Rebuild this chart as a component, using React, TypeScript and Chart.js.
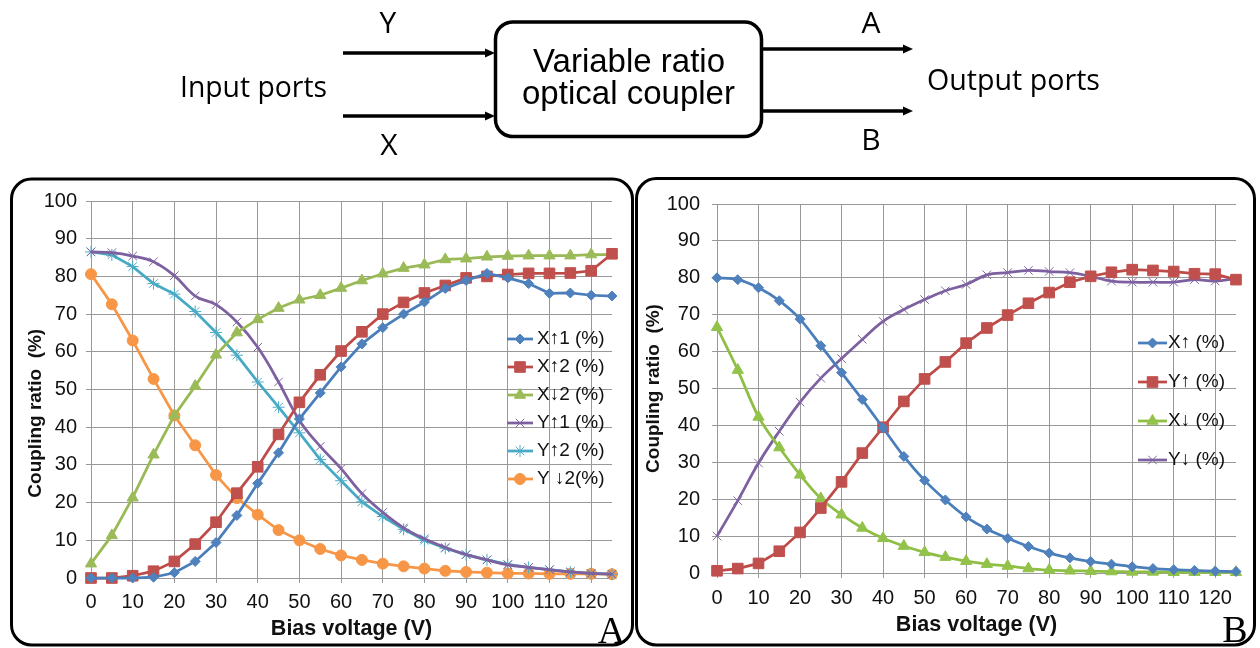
import React, { useEffect, useRef } from "react";
import { Chart, registerables, PointElement } from "chart.js";

Chart.register(...registerables);
Chart.defaults.font.family = "'Liberation Sans', Arial, sans-serif";

// ---------------- data ----------------
const voltages = [0, 5, 10, 15, 20, 25, 30, 35, 40, 45, 50, 55, 60, 65, 70, 75, 80, 85, 90, 95, 100, 105, 110, 115, 120, 125];
const xTickValues = [0, 10, 20, 30, 40, 50, 60, 70, 80, 90, 100, 110, 120];

// Panel A
const xUp1A = [0, 0, 0, 0.2, 1.4, 4.4, 9.4, 16.6, 25.1, 33.2, 42.2, 49.1, 56.0, 62.1, 66.4, 70.0, 73.2, 76.8, 78.9, 80.8, 79.6, 78.1, 75.5, 75.6, 75.0, 74.8];
const xUp2A = [0, 0, 0.6, 1.8, 4.4, 9.0, 14.8, 22.5, 29.5, 38.1, 46.6, 53.9, 60.2, 65.3, 70.0, 73.1, 75.6, 77.6, 79.6, 80.0, 80.5, 80.8, 80.8, 80.9, 81.5, 86.0];
const xDown2A = [3.8, 11.3, 21.3, 32.7, 43.1, 50.9, 59.2, 65.1, 68.6, 71.6, 73.8, 75.0, 76.9, 78.9, 80.7, 82.2, 83.1, 84.5, 84.7, 85.2, 85.4, 85.5, 85.5, 85.5, 85.8, 85.8];
const yUp1A = [86.5, 86.3, 85.4, 83.9, 80.2, 74.8, 72.5, 67.9, 61.2, 52.0, 41.8, 34.9, 29.0, 22.4, 17.4, 13.3, 10.4, 8.1, 6.2, 4.8, 3.5, 2.8, 2.2, 1.6, 1.2, 1.0];
const yUp2A = [86.5, 85.7, 82.6, 78.1, 75.3, 70.7, 65.1, 59.1, 52.0, 45.3, 38.5, 31.4, 25.8, 20.2, 16.3, 12.9, 10.0, 7.9, 6.2, 4.8, 3.6, 2.8, 2.2, 1.6, 1.2, 1.0];
const yDown2A = [80.6, 72.6, 63.0, 52.8, 43.1, 35.2, 27.3, 21.2, 16.8, 12.7, 10.0, 7.7, 6.0, 4.8, 3.8, 3.1, 2.5, 1.9, 1.6, 1.4, 1.2, 1.2, 1.1, 1.1, 1.1, 1.0];
const labelsA = ["X\u21911 (%)", "X\u21912 (%)", "X\u21932 (%)", "Y\u21911 (%)", "Y\u21912 (%)", "Y \u21932(%)"];

// Panel B
const xUpB = [80.0, 79.5, 77.3, 73.8, 68.8, 61.6, 54.3, 47.0, 39.3, 31.6, 25.1, 19.8, 15.2, 11.9, 9.4, 7.2, 5.4, 4.1, 3.1, 2.4, 1.7, 1.2, 0.9, 0.7, 0.5, 0.4];
const yUpB = [0.6, 1.2, 2.6, 5.9, 11.0, 17.6, 24.7, 32.5, 39.5, 46.5, 52.6, 57.2, 62.3, 66.4, 69.9, 73.1, 76.0, 78.8, 80.4, 81.5, 82.2, 82.0, 81.7, 81.1, 81.0, 79.5];
const xDownB = [66.6, 55.0, 42.3, 34.0, 26.6, 20.2, 15.8, 12.2, 9.4, 7.3, 5.6, 4.3, 3.2, 2.4, 1.9, 1.2, 0.8, 0.6, 0.5, 0.4, 0.3, 0.3, 0.2, 0.2, 0.2, 0.2];
const yDownB = [10.0, 19.6, 29.8, 38.4, 46.3, 52.8, 58.1, 63.3, 68.2, 71.4, 74.1, 76.5, 78.2, 80.8, 81.4, 82.0, 81.7, 81.4, 80.4, 79.1, 78.8, 78.8, 78.8, 79.5, 79.1, 79.8];
const labelsB = ["X\u2191 (%)", "Y\u2191 (%)", "X\u2193 (%)", "Y\u2193 (%)"];

const xTitle = "Bias voltage (V)";
const yTitle = "Coupling ratio  (%)";

// ---------------- helpers ----------------
const GRID = "#999999";
const TEXT = "#111111";

function series(label: string, values: number[], line: string, marker: string, pointStyle: string, radius: number, pointBorderWidth: number, tension: number) {
  return {
    label,
    data: voltages.map((v, i) => ({ x: v, y: values[i] })),
    borderColor: line,
    backgroundColor: marker,
    borderWidth: 2.75,
    pointStyle,
    pointRadius: radius,
    pointBorderWidth,
    pointBackgroundColor: marker,
    pointBorderColor: marker,
    tension,
    clip: false as any,
  };
}

const insideLegend = {
  id: "insideLegend",
  afterDatasetsDraw(chart: any, _args: any, opts: any) {
    const ctx = chart.ctx as CanvasRenderingContext2D;
    ctx.save();
    chart.data.datasets.forEach((ds: any, i: number) => {
      const y = opts.y0 + i * opts.spacing;
      ctx.strokeStyle = ds.borderColor;
      ctx.lineWidth = ds.borderWidth;
      ctx.beginPath();
      ctx.moveTo(opts.x0, y);
      ctx.lineTo(opts.x1, y);
      ctx.stroke();
      const pt: any = new PointElement({
        x: (opts.x0 + opts.x1) / 2,
        y,
        options: {
          pointStyle: ds.pointStyle,
          radius: ds.pointRadius,
          borderWidth: ds.pointBorderWidth,
          backgroundColor: ds.pointBackgroundColor,
          borderColor: ds.pointBorderColor,
          rotation: 0,
        },
      } as any);
      pt.draw(ctx, chart.chartArea);
      ctx.fillStyle = TEXT;
      ctx.font = opts.font;
      ctx.textAlign = "left";
      ctx.textBaseline = "middle";
      ctx.fillText(ds.label, opts.textX, y);
    });
    ctx.restore();
  },
};

function buildConfig(datasets: any[], p: any): any {
  return {
    type: "line",
    data: { datasets },
    plugins: [insideLegend],
    options: {
      animation: false,
      responsive: false,
      layout: { padding: { top: p.padTop, right: p.padRight, left: 0, bottom: 0 } },
      plugins: {
        legend: { display: false },
        tooltip: { enabled: false },
        insideLegend: p.legend,
      },
      scales: {
        x: {
          type: "linear",
          min: 0,
          max: 125,
          afterBuildTicks: (scale: any) => {
            scale.ticks = xTickValues.map((v) => ({ value: v }));
          },
          afterFit: (scale: any) => {
            scale.height = p.xAxisHeight;
          },
          ticks: { font: { size: 20 }, color: TEXT, padding: p.xTickPad, maxRotation: 0, autoSkip: false },
          grid: { color: GRID, lineWidth: 1, tickLength: 5, drawTicks: true },
          border: { color: GRID },
          title: {
            display: true,
            text: xTitle,
            font: { size: 21.5, weight: "bold" },
            color: TEXT,
            padding: { top: 0, bottom: p.xTitlePad },
          },
        },
        y: {
          type: "linear",
          min: 0,
          max: 100,
          afterFit: (scale: any) => {
            scale.width = p.yAxisWidth;
          },
          ticks: { stepSize: 10, font: { size: 20 }, color: TEXT, padding: p.yTickPad },
          grid: { color: GRID, lineWidth: 1, tickLength: 5, drawTicks: true },
          border: { color: GRID },
          title: {
            display: true,
            text: p.yTitleText,
            font: { size: 19, weight: "bold" },
            color: TEXT,
            padding: { top: p.yTitlePad, bottom: 0 },
          },
        },
      },
    },
  };
}

function buildA() {
  const ds = [
    series(labelsA[0], xUp1A, "#4A7EBB", "#4F81BD", "rectRot", 5, 1, 0),
    series(labelsA[1], xUp2A, "#BE4B48", "#C0504D", "rect", 7.5, 1, 0),
    series(labelsA[2], xDown2A, "#98B954", "#9BBB59", "triangle", 6.5, 1, 0),
    series(labelsA[3], yUp1A, "#7D60A0", "#8064A2", "crossRot", 6, 1, 0.4),
    series(labelsA[4], yUp2A, "#46AAC5", "#4BACC6", "star", 6, 1, 0),
    series(labelsA[5], yDown2A, "#F79646", "#F79646", "circle", 5.5, 1, 0),
  ];
  return buildConfig(ds, {
    padTop: 12,
    padRight: 21,
    xAxisHeight: 65,
    yAxisWidth: 78,
    xTickPad: 7,
    yTickPad: 9,
    xTitlePad: 1,
    yTitlePad: 11,
    yTitleText: yTitle + "         ",
    legend: { x0: 494, x1: 520, textX: 524, y0: 159, spacing: 28, font: "19px 'Liberation Sans', Arial, sans-serif" },
  });
}

function buildB() {
  const ds = [
    series(labelsB[0], xUpB, "#4A7EBB", "#4F81BD", "rectRot", 5, 1, 0.3),
    series(labelsB[1], yUpB, "#BE4B48", "#C0504D", "rect", 7.5, 1, 0),
    series(labelsB[2], xDownB, "#8FBE45", "#92C24A", "triangle", 6.5, 1, 0.3),
    series(labelsB[3], yDownB, "#7D60A0", "#8064A2", "crossRot", 6, 1, 0.4),
  ];
  return buildConfig(ds, {
    padTop: 12,
    padRight: 17,
    xAxisHeight: 70,
    yAxisWidth: 76,
    xTickPad: 8,
    yTickPad: 12,
    xTitlePad: 5,
    yTitlePad: 1,
    yTitleText: yTitle,
    legend: { x0: 497, x1: 526, textX: 527, y0: 163, spacing: 39, font: "19px 'Liberation Sans', Arial, sans-serif" },
  });
}

function ChartCanvas({ left, top, width, height, build }: { left: number; top: number; width: number; height: number; build: () => any }) {
  const ref = useRef<HTMLCanvasElement>(null);
  useEffect(() => {
    const chart = new Chart(ref.current as HTMLCanvasElement, build());
    return () => chart.destroy();
  }, []);
  return (
    <canvas
      ref={ref}
      width={width}
      height={height}
      style={{ position: "absolute", left, top, width, height }}
    />
  );
}

function Arrow({ x1, x2, y }: { x1: number; x2: number; y: number }) {
  return (
    <g>
      <line x1={x1} y1={y} x2={x2 - 8} y2={y} stroke="#000" strokeWidth={3.5} />
      <polygon points={`${x2},${y} ${x2 - 10},${y - 4.5} ${x2 - 10},${y + 4.5}`} fill="#000" />
    </g>
  );
}

export default function App() {
  const sans = "'Open Sans', 'Noto Sans', sans-serif";
  const arial = "'Liberation Sans', Arial, sans-serif";
  return (
    <div style={{ position: "absolute", left: 0, top: 0, width: 1260, height: 648, background: "#fff", overflow: "hidden" }}>
      <ChartCanvas left={13} top={180} width={620} height={463} build={buildA} />
      <ChartCanvas left={641} top={180} width={612} height={463} build={buildB} />
      <svg width={1260} height={648} style={{ position: "absolute", left: 0, top: 0, pointerEvents: "none" }}>
        {/* block diagram */}
        <text x={388} y={33} fontFamily={sans} fontSize={30} textAnchor="middle" fill="#000">Y</text>
        <text x={389} y={155} fontFamily={sans} fontSize={30} textAnchor="middle" fill="#000">X</text>
        <text x={180} y={97} fontFamily={sans} fontSize={30} fill="#000" textLength={147} lengthAdjust="spacingAndGlyphs">Input ports</text>
        <Arrow x1={343} x2={495} y={53} />
        <Arrow x1={343} x2={495} y={116} />
        <rect x={495.5} y={22} width={266} height={114.5} rx={17} ry={17} fill="#fff" stroke="#000" strokeWidth={3.5} />
        <text x={629} y={72} fontFamily={arial} fontSize={33} textAnchor="middle" fill="#000" textLength={192} lengthAdjust="spacingAndGlyphs">Variable ratio</text>
        <text x={628.5} y={104} fontFamily={arial} fontSize={33} textAnchor="middle" fill="#000" textLength={213} lengthAdjust="spacingAndGlyphs">optical coupler</text>
        <Arrow x1={762} x2={913} y={49} />
        <Arrow x1={762} x2={913} y={111} />
        <text x={871} y={33} fontFamily={sans} fontSize={30} textAnchor="middle" fill="#000">A</text>
        <text x={871} y={150} fontFamily={sans} fontSize={30} textAnchor="middle" fill="#000">B</text>
        <text x={927} y={90} fontFamily={sans} fontSize={30} fill="#000" textLength={173} lengthAdjust="spacingAndGlyphs">Output ports</text>

        {/* panel frames */}
        <rect x={11.5} y={179} width={621} height={466} rx={20} ry={20} fill="none" stroke="#000" strokeWidth={3} />
        <rect x={636.5} y={178.5} width={618} height={466.5} rx={20} ry={20} fill="none" stroke="#000" strokeWidth={3} />
        <text x={611.5} y={643} fontFamily="'Liberation Serif', 'DejaVu Serif', serif" fontSize={38} textAnchor="middle" fill="#000">A</text>
        <text x={1235} y={642} fontFamily="'Liberation Serif', 'DejaVu Serif', serif" fontSize={38} textAnchor="middle" fill="#000">B</text>
      </svg>
    </div>
  );
}
